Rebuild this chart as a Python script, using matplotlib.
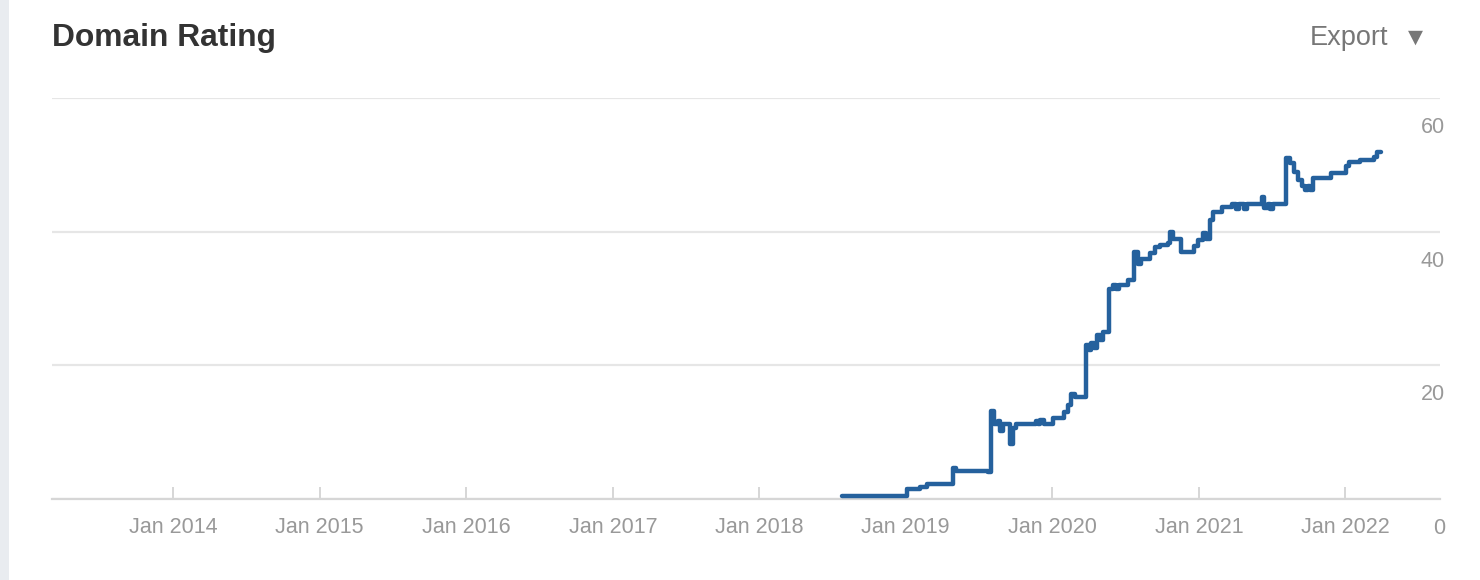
import matplotlib
matplotlib.use("Agg")
import matplotlib.pyplot as plt
import matplotlib.dates as mdates
import matplotlib.transforms as mtransforms
from matplotlib.patches import Rectangle
import pandas as pd

plt.rcParams['font.family'] = ['Liberation Sans', 'DejaVu Sans']

title = "Domain Rating"
export_label = "Export"

dates = [
    "2018-07-27", "2019-01-05", "2019-02-06", "2019-02-24", "2019-04-30", "2019-05-07",
    "2019-07-26", "2019-08-02", "2019-08-10", "2019-08-20", "2019-08-25", "2019-09-01",
    "2019-09-19", "2019-09-26", "2019-10-04", "2019-11-23", "2019-11-28", "2019-12-03",
    "2019-12-13", "2020-01-04", "2020-01-31", "2020-02-10", "2020-02-18", "2020-02-28",
    "2020-03-26", "2020-04-02", "2020-04-07", "2020-04-15", "2020-04-22", "2020-04-30",
    "2020-05-07", "2020-05-22", "2020-06-01", "2020-06-09", "2020-06-16", "2020-07-09",
    "2020-07-24", "2020-08-03", "2020-08-10", "2020-09-02", "2020-09-14", "2020-09-27",
    "2020-10-16", "2020-10-21", "2020-10-29", "2020-11-18", "2020-12-20", "2020-12-30",
    "2021-01-12", "2021-01-19", "2021-01-29", "2021-02-06", "2021-02-28", "2021-03-25",
    "2021-04-04", "2021-04-12", "2021-04-24", "2021-05-02", "2021-06-08", "2021-06-13",
    "2021-06-21", "2021-06-28", "2021-07-05", "2021-08-07", "2021-08-17", "2021-08-27",
    "2021-09-06", "2021-09-16", "2021-09-23", "2021-10-01", "2021-10-06", "2021-10-13",
    "2021-11-27", "2022-01-03", "2022-01-11", "2022-02-07", "2022-03-14", "2022-03-22",
    "2022-04-01",
]
ratings = [
    0.5, 1.5, 1.8, 2.2, 4.6, 4.2,
    4.0, 13.2, 11.2, 11.7, 10.2, 11.2,
    8.2, 10.6, 11.2, 11.7, 11.2, 11.8,
    11.2, 12.1, 13.0, 14.1, 15.7, 15.3,
    23.1, 22.3, 23.4, 22.6, 24.6, 23.8,
    25.0, 31.4, 32.0, 31.4, 32.0, 32.8,
    37.0, 35.2, 35.9, 36.8, 37.7, 38.0,
    38.3, 40.0, 38.9, 37.0, 37.9, 38.8,
    39.8, 38.9, 41.8, 43.0, 43.7, 44.2,
    43.4, 44.2, 43.4, 44.2, 45.2, 43.6,
    44.2, 43.4, 44.2, 51.0, 50.3, 49.0,
    47.8, 46.9, 46.3, 46.9, 46.3, 48.1,
    48.8, 49.9, 50.4, 50.7, 51.2, 51.9,
    51.9,
]
x_tick_years = [2014, 2015, 2016, 2017, 2018, 2019, 2020, 2021, 2022]
y_ticks = [0, 20, 40, 60]
x_range = ("2013-03-05", "2022-08-25")

fig = plt.figure(figsize=(14.8, 5.8), dpi=100)
fig.patch.set_facecolor("white")

# left grey strip
fig.add_artist(Rectangle((0, 0), 9 / 1480, 1, transform=fig.transFigure,
                         facecolor="#e9ecf0", edgecolor="none"))

ax = fig.add_axes([52 / 1480, 1 - 499 / 580, (1440 - 52) / 1480, (499 - 98) / 580])
ax.set_facecolor("white")

x = pd.to_datetime(dates)
ax.plot(x, ratings, drawstyle="steps-post", color="#25619d", linewidth=3.2,
        solid_joinstyle="round", solid_capstyle="round", zorder=3)

ax.set_xlim(pd.Timestamp(x_range[0]), pd.Timestamp(x_range[1]))
ax.set_ylim(0, 60)

for s in ["top", "left", "right"]:
    ax.spines[s].set_visible(False)
ax.spines["bottom"].set_color("#d6d6d6")
ax.spines["bottom"].set_linewidth(1.6)

ax.set_yticks(y_ticks)
ax.yaxis.grid(True, color="#e6e6e6", linewidth=1.6)
ax.set_axisbelow(True)
ax.tick_params(axis="y", left=False, right=False, labelleft=False, labelright=True,
               labelsize=15.5, labelcolor="#999999", pad=0)
for lbl in ax.get_yticklabels():
    lbl.set_horizontalalignment("right")
    lbl.set_transform(lbl.get_transform() +
                      mtransforms.ScaledTranslation(0, -27 / 100, fig.dpi_scale_trans))

ax.set_xticks([pd.Timestamp(f"{y}-01-01") for y in x_tick_years])
ax.xaxis.set_major_formatter(mdates.DateFormatter("Jan %Y"))
ax.tick_params(axis="x", direction="in", length=8.5, width=1.4, color="#d6d6d6",
               labelsize=15.5, labelcolor="#999999", pad=13)

fig.text(52 / 1480, 1 - 46 / 580, title, fontsize=22.9, fontweight="bold",
         color="#333333", ha="left", va="baseline")
fig.text(1388 / 1480, 1 - 45 / 580, export_label, fontsize=19.5, color="#777777",
         ha="right", va="baseline")
fig.text(1415 / 1480, 1 - 37 / 580, "\u25BC", fontsize=14, color="#777777",
         ha="center", va="center", family=["DejaVu Sans"])

fig.savefig("out.png", dpi=100, facecolor="white")
